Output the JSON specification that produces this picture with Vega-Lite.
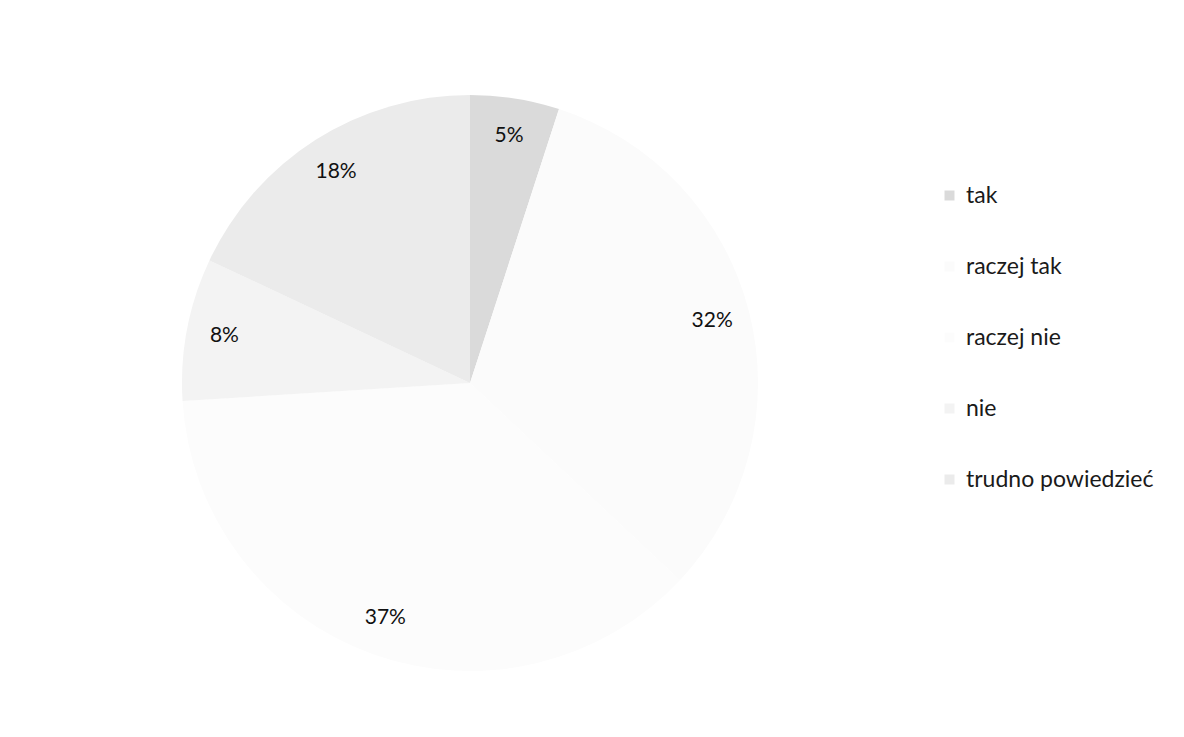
{
  "$schema": "https://vega.github.io/schema/vega-lite/v6.json",
  "width": 940,
  "height": 766,
  "padding": {"left": 0, "top": 0, "right": 244, "bottom": 0},
  "autosize": "none",
  "background": "#ffffff",
  "view": {"stroke": null},
  "data": {
    "values": [
      {"kategoria": "tak", "procent": 5, "etykieta": "5%", "o": 1},
      {"kategoria": "raczej tak", "procent": 32, "etykieta": "32%", "o": 2},
      {"kategoria": "raczej nie", "procent": 37, "etykieta": "37%", "o": 3},
      {"kategoria": "nie", "procent": 8, "etykieta": "8%", "o": 4},
      {"kategoria": "trudno powiedzieć", "procent": 18, "etykieta": "18%", "o": 5}
    ]
  },
  "encoding": {
    "theta": {"field": "procent", "type": "quantitative", "stack": true},
    "order": {"field": "o", "type": "quantitative"}
  },
  "layer": [
    {
      "mark": {"type": "arc", "outerRadius": 288, "stroke": null},
      "encoding": {
        "color": {
          "field": "kategoria",
          "type": "nominal",
          "sort": ["tak", "raczej tak", "raczej nie", "nie", "trudno powiedzieć"],
          "scale": {
            "domain": ["tak", "raczej tak", "raczej nie", "nie", "trudno powiedzieć"],
            "range": ["#dadada", "#fbfbfb", "#fcfcfc", "#f3f3f3", "#ebebeb"]
          },
          "legend": {
            "title": null,
            "orient": "none",
            "legendX": 938,
            "legendY": 184,
            "symbolType": "square",
            "symbolSize": 100,
            "symbolStrokeWidth": 0,
            "labelFont": "Lato",
            "labelFontSize": 23,
            "labelColor": "#1a1a1a",
            "labelOffset": 5,
            "rowPadding": 47,
            "labelLimit": 300
          }
        }
      }
    },
    {
      "mark": {"type": "text", "radius": 250, "font": "Lato", "fontSize": 21, "color": "#111111"},
      "encoding": {
        "text": {"field": "etykieta", "type": "nominal"}
      }
    }
  ]
}
